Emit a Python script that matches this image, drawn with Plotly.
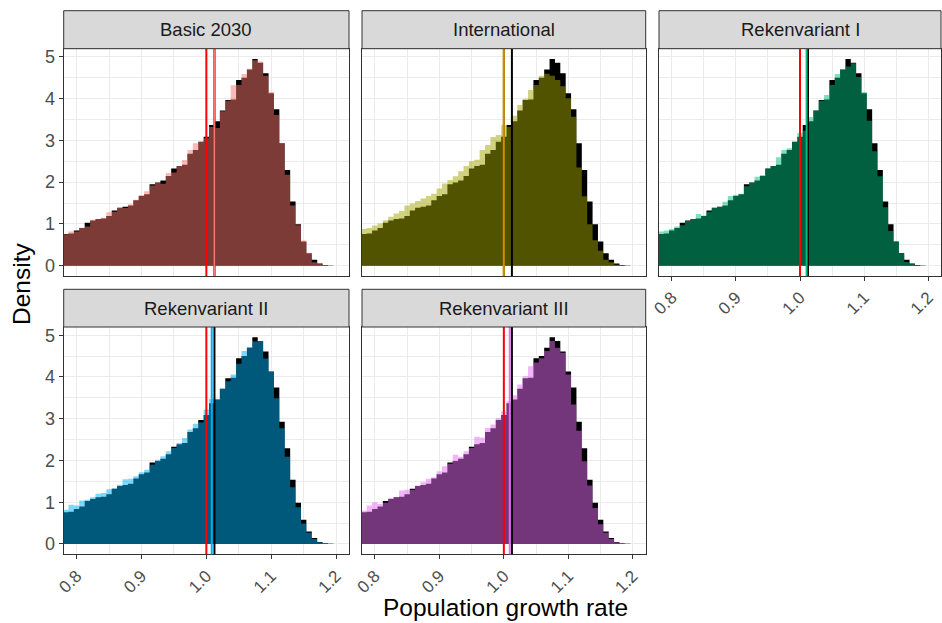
import numpy as np
import plotly.graph_objects as go

# ---------------- data ----------------
panels = ["Basic 2030", "International", "Rekenvariant I", "Rekenvariant II", "Rekenvariant III"]
colors = ["#F8766D", "#A3A500", "#00BF7D", "#00B0F6", "#E76BF3"]
fills = ["rgba(248,118,109,0.5)", "rgba(163,165,0,0.5)", "rgba(0,191,125,0.5)",
         "rgba(0,176,246,0.5)", "rgba(231,107,243,0.5)"]

BIN_START = 0.77899   # left edge of first visible bin
BIN_WIDTH = 0.00834

# reference histogram (black), density per bin
reference = [0.76, 0.77, 0.84, 0.90, 1.03, 1.08, 1.12, 1.13, 1.19, 1.32, 1.39, 1.41, 1.44,
             1.57, 1.67, 1.71, 1.95, 1.99, 2.04, 2.15, 2.33, 2.39, 2.42, 2.68, 2.77, 2.97,
             3.09, 3.37, 3.46, 3.72, 3.97, 3.98, 4.45, 4.50, 4.70, 4.95, 4.86, 4.61, 4.13,
             3.75, 2.93, 2.29, 1.54, 0.99, 0.58, 0.30, 0.14, 0.05, 0.015, 0.005, 0.0]

basic_2030 = [0.75, 0.82, 0.82, 0.91, 0.94, 1.10, 1.12, 1.15, 1.28, 1.29, 1.39, 1.38, 1.47,
              1.58, 1.69, 1.78, 1.92, 1.99, 1.96, 2.22, 2.23, 2.39, 2.53, 2.77, 2.93, 2.97,
              3.05, 3.32, 3.30, 3.70, 3.95, 4.32, 4.33, 4.59, 4.72, 4.92, 4.89, 4.55, 4.16,
              3.61, 2.93, 2.18, 1.44, 0.97, 0.60, 0.31, 0.08, 0.04, 0.015, 0.005, 0.0]

international = [0.88, 0.90, 0.96, 1.01, 1.09, 1.17, 1.25, 1.31, 1.44, 1.49, 1.55, 1.61, 1.67,
                 1.72, 1.85, 1.97, 2.05, 2.14, 2.26, 2.39, 2.50, 2.54, 2.77, 2.89, 3.08, 3.13,
                 3.37, 3.32, 3.59, 3.85, 4.00, 4.21, 4.33, 4.55, 4.60, 4.55, 4.45, 4.30, 4.01,
                 3.57, 2.35, 1.66, 0.99, 0.61, 0.36, 0.14, 0.08, 0.02, 0.01, 0.0, 0.0]

rekenvariant_1 = [0.82, 0.84, 0.88, 0.94, 0.97, 1.07, 1.12, 1.24, 1.20, 1.29, 1.39, 1.41, 1.53,
                  1.67, 1.70, 1.72, 1.90, 1.99, 2.13, 2.17, 2.33, 2.39, 2.60, 2.77, 2.81, 2.96,
                  3.18, 3.23, 3.56, 3.72, 3.95, 4.09, 4.33, 4.59, 4.71, 4.77, 4.85, 4.52, 4.16,
                  3.47, 2.74, 2.14, 1.40, 0.83, 0.58, 0.28, 0.09, 0.04, 0.01, 0.005, 0.0]

rekenvariant_2 = [0.82, 0.94, 0.92, 1.04, 1.06, 1.12, 1.20, 1.22, 1.31, 1.33, 1.42, 1.55, 1.56,
                  1.62, 1.72, 1.78, 1.90, 2.02, 2.10, 2.22, 2.30, 2.42, 2.54, 2.74, 2.88, 2.91,
                  3.22, 3.47, 3.47, 3.72, 3.90, 4.06, 4.32, 4.62, 4.72, 4.85, 4.86, 4.44, 4.13,
                  3.49, 2.77, 2.09, 1.36, 0.88, 0.49, 0.27, 0.12, 0.04, 0.02, 0.01, 0.0]

rekenvariant_3 = [0.80, 0.92, 1.00, 0.96, 0.99, 1.10, 1.12, 1.28, 1.30, 1.30, 1.40, 1.48, 1.56,
                  1.60, 1.74, 1.86, 1.92, 2.14, 2.09, 2.22, 2.30, 2.57, 2.55, 2.78, 2.86, 3.02,
                  3.18, 3.42, 3.56, 3.82, 4.02, 4.26, 4.35, 4.45, 4.62, 4.86, 4.70, 4.58, 4.06,
                  3.34, 2.71, 1.98, 1.40, 0.86, 0.47, 0.27, 0.12, 0.04, 0.02, 0.01, 0.0]

scenarios = [basic_2030, international, rekenvariant_1, rekenvariant_2, rekenvariant_3]

threshold = 1.0
reference_mean = 1.0125
scenario_means = [1.0124, 0.9999, 1.0103, 1.0083, 1.0092]

x_ticks = [0.8, 0.9, 1.0, 1.1, 1.2]
x_labels = ["0.8", "0.9", "1.0", "1.1", "1.2"]
y_ticks = [0, 1, 2, 3, 4, 5]

# ---------------- layout geometry (pixels) ----------------
W, H = 942, 623
col_px = [(63.7, 349.0), (362.0, 645.7), (659.0, 941.0)]
row_px = [(48.7, 276.0), (327.0, 554.3)]
strip_px = [(10.7, 48.7), (289.3, 327.0)]

def fx(px):
    return px / W

def fy(py):
    return 1 - py / H

FONT = "Liberation Sans, Arial, sans-serif"
edges = BIN_START + BIN_WIDTH * np.arange(len(reference) + 1)

def step_y(vals):
    return list(vals) + [vals[-1]]

fig = go.Figure()
shapes = []
annotations = []

for i, name in enumerate(panels):
    r, c = divmod(i, 3)
    n = "" if i == 0 else str(i + 1)
    xa, ya = "x" + n, "y" + n
    fig.add_trace(go.Scatter(x=edges, y=step_y(reference), mode="lines", line=dict(shape="hv", width=0),
                             fill="tozeroy", fillcolor="black", xaxis=xa, yaxis=ya,
                             showlegend=False, hoverinfo="skip"))
    fig.add_trace(go.Scatter(x=edges, y=step_y(scenarios[i]), mode="lines", line=dict(shape="hv", width=0),
                             fill="tozeroy", fillcolor=fills[i], xaxis=xa, yaxis=ya,
                             showlegend=False, hoverinfo="skip"))

    show_x = (r == 1) or (c == 2)
    show_y = (c == 0)
    fig.layout["xaxis" + n] = dict(
        domain=[fx(col_px[c][0]), fx(col_px[c][1])], anchor=ya, automargin=False,
        range=[0.78, 1.22], tickmode="array", tickvals=x_ticks, ticktext=x_labels,
        showticklabels=show_x, ticks="outside" if show_x else "", ticklen=4, tickcolor="#333333",
        tickangle=-45, tickfont=dict(family=FONT, size=17, color="#4D4D4D"),
        showgrid=True, gridcolor="#EBEBEB", gridwidth=1.1,
        minor=dict(tickvals=[0.75, 0.85, 0.95, 1.05, 1.15], showgrid=True, gridcolor="#EBEBEB", gridwidth=0.6),
        zeroline=False, showline=True, mirror=True, linecolor="#333333", linewidth=1,
        fixedrange=True)
    fig.layout["yaxis" + n] = dict(
        domain=[fy(row_px[r][1]), fy(row_px[r][0])], anchor=xa, automargin=False,
        range=[-0.2475, 5.1975], tickmode="array", tickvals=y_ticks,
        showticklabels=show_y, ticks="outside" if show_y else "", ticklen=4, tickcolor="#333333",
        tickfont=dict(family=FONT, size=18, color="#4D4D4D"),
        showgrid=True, gridcolor="#EBEBEB", gridwidth=1.1,
        minor=dict(tickvals=[0.5, 1.5, 2.5, 3.5, 4.5], showgrid=True, gridcolor="#EBEBEB", gridwidth=0.6),
        zeroline=False, showline=True, mirror=True, linecolor="#333333", linewidth=1,
        fixedrange=True)

    # vertical lines: threshold (red), reference mean (black), scenario mean (colour)
    for xv, col in [(threshold, "#FF0000"), (reference_mean, "black"), (scenario_means[i], colors[i])]:
        shapes.append(dict(type="line", xref=xa, yref=ya + " domain", x0=xv, x1=xv, y0=0, y1=1,
                           line=dict(color=col, width=2)))

    # facet strip
    shapes.append(dict(type="rect", xref="paper", yref="paper",
                       x0=fx(col_px[c][0]), x1=fx(col_px[c][1]),
                       y0=fy(strip_px[r][1]), y1=fy(strip_px[r][0]),
                       fillcolor="#D9D9D9", line=dict(color="#333333", width=1)))
    annotations.append(dict(text=name, xref="paper", yref="paper",
                            x=fx((col_px[c][0] + col_px[c][1]) / 2),
                            y=fy((strip_px[r][0] + strip_px[r][1]) / 2),
                            showarrow=False, xanchor="center", yanchor="middle",
                            font=dict(family=FONT, size=18.5, color="#1A1A1A")))

annotations.append(dict(text="Population growth rate", xref="paper", yref="paper",
                        x=fx(505), y=fy(607), showarrow=False, xanchor="center", yanchor="middle",
                        font=dict(family=FONT, size=24.5, color="black")))
annotations.append(dict(text="Density", xref="paper", yref="paper", textangle=-90,
                        x=fx(22), y=fy(284), showarrow=False, xanchor="center", yanchor="middle",
                        font=dict(family=FONT, size=24.5, color="black")))

fig.update_layout(width=W, height=H, margin=dict(l=0, r=0, t=0, b=0, autoexpand=False),
                  paper_bgcolor="white", plot_bgcolor="white",
                  shapes=shapes, annotations=annotations, showlegend=False)

fig.write_html("out.html", config={"displayModeBar": False},
               post_script="document.body.style.margin='0';document.body.style.padding='0';")
